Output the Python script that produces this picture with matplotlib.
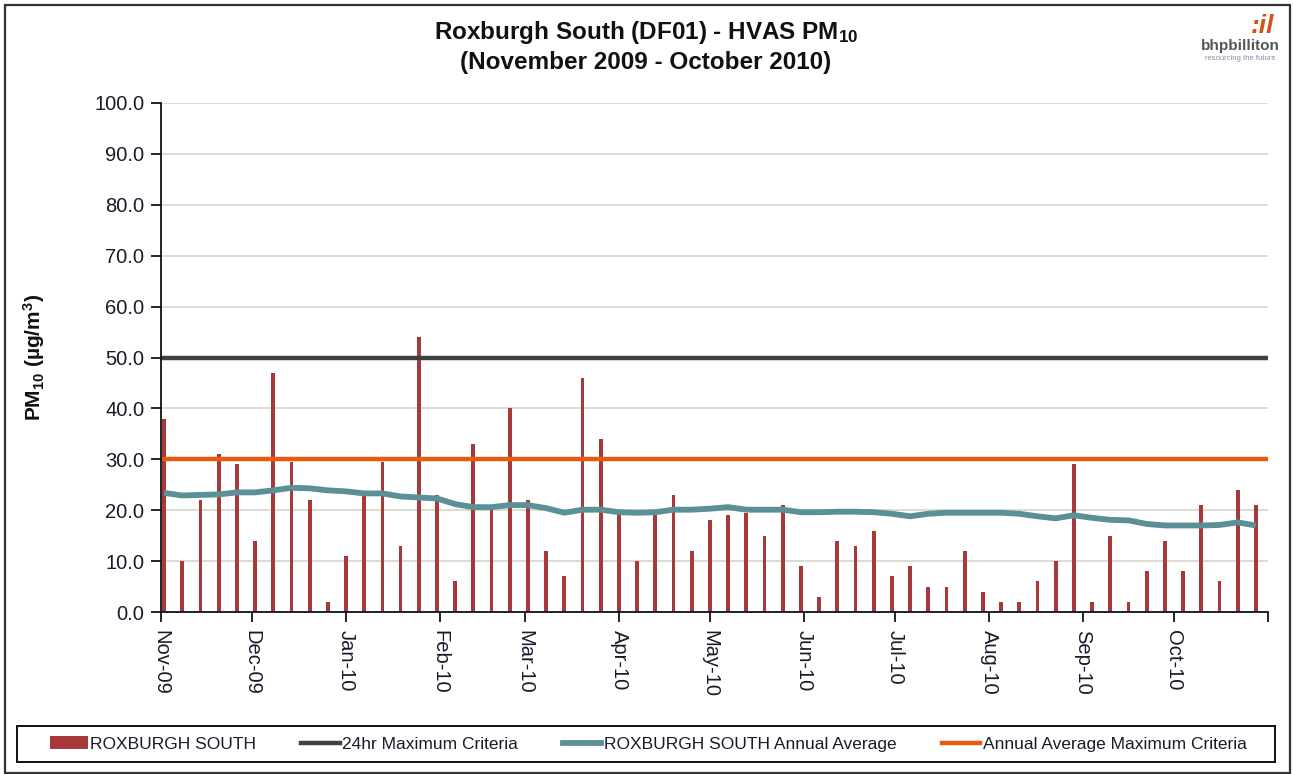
"""Roxburgh South (DF01) HVAS PM10, Nov 2009 - Oct 2010, with criteria lines."""
import numpy as np
import pandas as pd
import matplotlib
matplotlib.use("Agg")
import matplotlib.pyplot as plt
from matplotlib.patches import Rectangle, Patch
from matplotlib.lines import Line2D

plt.rcParams["font.family"] = ["Liberation Sans", "DejaVu Sans"]
plt.rcParams["mathtext.fontset"] = "custom"
plt.rcParams["mathtext.rm"] = "Liberation Sans:bold"
plt.rcParams["mathtext.it"] = "Liberation Sans:bold"
plt.rcParams["mathtext.bf"] = "Liberation Sans:bold"

RED = "#a8393a"
DARK = "#404040"
TEAL = "#5a9197"
ORANGE = "#e85a0c"
GRID = "#d9d9cb"
TXT = "#1a1a2a"

# HVAS samples, one every 6 days from 2 Nov 2009
first_sample = "2009-11-02"
sample_step = "6D"
pm10 = [38, 10, 22, 31, 29, 14, 47, 29.5, 22, 2,
        11, 23, 29.5, 13, 54, 23, 6, 33, 20, 40,
        22, 12, 7, 46, 34, 19.5, 10, 19, 23, 12,
        18, 19, 19.5, 15, 21, 9, 3, 14, 13, 16,
        7, 9, 5, 5, 12, 4, 2, 2, 6, 10,
        29, 2, 15, 2, 8, 14, 8, 21, 6, 24, 21]
annual_avg = [23.4, 22.9, 23.0, 23.1, 23.5, 23.5, 23.9, 24.4, 24.3, 23.9,
              23.7, 23.3, 23.3, 22.7, 22.5, 22.3, 21.2, 20.6, 20.6, 21.0,
              21.0, 20.4, 19.5, 20.1, 20.1, 19.6, 19.5, 19.6, 20.1, 20.1,
              20.3, 20.6, 20.1, 20.1, 20.1, 19.6, 19.6, 19.7, 19.7, 19.6,
              19.3, 18.8, 19.3, 19.5, 19.5, 19.5, 19.5, 19.3, 18.8, 18.4,
              19.0, 18.5, 18.1, 18.0, 17.3, 17.0, 17.0, 17.0, 17.1, 17.6, 17.0]
max_24hr = 50.0
max_annual = 30.0
month_starts = ["2009-11-01", "2009-12-01", "2010-01-01", "2010-02-01",
                "2010-03-01", "2010-04-01", "2010-05-01", "2010-06-01",
                "2010-07-01", "2010-08-01", "2010-09-01", "2010-10-01",
                "2010-11-01"]
month_labels = ["Nov-09", "Dec-09", "Jan-10", "Feb-10", "Mar-10", "Apr-10",
                "May-10", "Jun-10", "Jul-10", "Aug-10", "Sep-10", "Oct-10", ""]

dates = pd.date_range(first_sample, periods=len(pm10), freq=sample_step)
ticks = pd.to_datetime(month_starts)

W, H = 1293, 774
fig = plt.figure(figsize=(W / 100, H / 100), dpi=100)
ax = fig.add_axes([161 / W, 1 - 612 / H, (1268 - 161) / W, (612 - 103) / H])

ax.bar(dates, pm10, width=1.25, color=RED, zorder=3, label="ROXBURGH SOUTH")
ax.axhline(max_24hr, color=DARK, lw=3.2, zorder=4, label="24hr Maximum Criteria")
ax.plot(dates, annual_avg, color=TEAL, lw=4.2, zorder=5,
        solid_capstyle="butt", label="ROXBURGH SOUTH Annual Average")
ax.axhline(max_annual, color=ORANGE, lw=3.2, zorder=4,
           label="Annual Average Maximum Criteria")

ax.set_xlim(ticks[0], ticks[-1])
ax.set_ylim(0, 100)
ax.set_yticks(np.arange(0, 101, 10))
ax.set_yticklabels([f"{v:.1f}" for v in np.arange(0, 101, 10)],
                   fontsize=14.5, color=TXT)
ax.set_xticks(ticks)
ax.set_xticklabels(month_labels, rotation=270, fontsize=14.5, color=TXT,
                   va="top", ha="center")
ax.tick_params(axis="y", length=7, width=1.2, pad=5)
ax.tick_params(axis="x", length=7, width=1.2, pad=6)
ax.grid(axis="y", color=GRID, lw=1.3, zorder=0)
ax.set_axisbelow(True)
for s in ("top", "right"):
    ax.spines[s].set_visible(False)
for s in ("left", "bottom"):
    ax.spines[s].set_linewidth(1.3)
    ax.spines[s].set_color("#111111")
    ax.spines[s].set_zorder(6)

ax.set_ylabel("PM$_{10}$ (µg/m$^{3}$)", fontsize=15, fontweight="bold",
              color="#111111")
ax.yaxis.set_label_coords(-114 / (1268 - 161), 0.5)

fig.text(646 / W, 1 - 32 / H, r"Roxburgh South (DF01) - HVAS PM$_{10}$",
         ha="center", va="center", fontsize=17.5, fontweight="bold", color="#111111")
fig.text(646 / W, 1 - 62 / H, "(November 2009 - October 2010)",
         ha="center", va="center", fontsize=17.5, fontweight="bold", color="#111111")

# logo
fig.text(1263 / W, 1 - 26 / H, ":il", ha="center", va="center", fontsize=19,
         fontweight="bold", style="italic", color="#d2521a")
fig.text(1240 / W, 1 - 46 / H, "bhpbilliton", ha="center", va="center",
         fontsize=11, fontweight="bold", color="#555555")
fig.text(1240 / W, 1 - 59 / H, "resourcing the future", ha="center", va="center",
         fontsize=5.5, color="#8090b0")

# outer frame
fig.add_artist(Rectangle((5 / W, 1 / H), (1290 - 5) / W, (769 - 1) / H,
                         transform=fig.transFigure, fill=False,
                         edgecolor="#333333", lw=1.6))

# legend box
fig.add_artist(Rectangle((17 / W, 1 - 762 / H), (1275 - 17) / W, (762 - 726) / H,
                         transform=fig.transFigure, fill=False,
                         edgecolor="#111111", lw=1.4))
handles = [Patch(facecolor=RED, edgecolor="none"),
           Line2D([], [], color=DARK, lw=3.2),
           Line2D([], [], color=TEAL, lw=4.2),
           Line2D([], [], color=ORANGE, lw=3.2)]
labels = ["ROXBURGH SOUTH", "24hr Maximum Criteria",
          "ROXBURGH SOUTH Annual Average", "Annual Average Maximum Criteria"]
fig.legend(handles, labels, loc="center", bbox_to_anchor=(648 / W, 1 - 744 / H),
           ncol=4, frameon=False, fontsize=12.5, handlelength=2.2, handleheight=0.8,
           handletextpad=0.15, columnspacing=2.6, labelcolor=TXT)

fig.savefig("out.png", dpi=100)
